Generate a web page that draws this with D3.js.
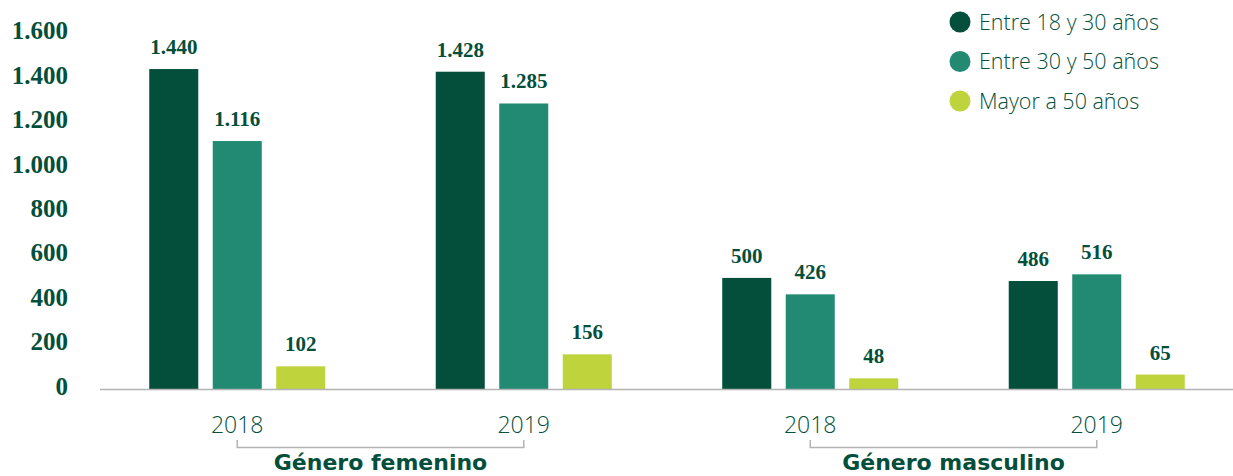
<!DOCTYPE html>
<html>
<head>
<meta charset="utf-8">
<script src="https://cdn.jsdelivr.net/npm/d3@7"></script>
<style>
  body { margin: 0; background: #fff; }
  .num { font-family: "Liberation Serif", serif; font-weight: bold; fill: #034f3b; }
  .sans { font-family: "Open Sans", sans-serif; fill: #034f3b; }
  .bold { font-family: "DejaVu Sans", sans-serif; font-weight: bold; fill: #034f3b; }
</style>
</head>
<body>
<div id="chart"></div>
<script>
// data
const groups = ["F2018", "F2019", "M2018", "M2019"];
const years = ["2018", "2019", "2018", "2019"];
const genders = ["Género femenino", "Género masculino"];
const series = ["Entre 18 y 30 años", "Entre 30 y 50 años", "Mayor a 50 años"];
const entre18y30 = [1440, 1428, 500, 486];
const entre30y50 = [1116, 1285, 426, 516];
const mayor50 = [102, 156, 48, 65];
const yTicks = [0, 200, 400, 600, 800, 1000, 1200, 1400, 1600];
const colors = ["#034f3b", "#228a72", "#bfd33c"];

const W = 1233, H = 476;
const svg = d3.select("#chart").append("svg")
  .attr("width", W)
  .attr("height", H);

const values = [entre18y30, entre30y50, mayor50];
const fmt = d3.formatLocale({decimal: ",", thousands: ".", grouping: [3], currency: ["", ""]}).format(",");

const y = d3.scaleLinear().domain([0, 1600]).range([389, 33.5]);
const x0 = d3.scaleBand().domain(groups).range([94, 1240]);
const x1 = d3.scaleBand().domain(series).range([0, x0.bandwidth()])
  .paddingInner(0.228).paddingOuter(0.87);

// y axis labels
svg.append("g").selectAll("text")
  .data(yTicks)
  .enter().append("text")
    .attr("class", "num")
    .attr("x", 68)
    .attr("y", d => y(d) - 3)
    .attr("dy", ".35em")
    .attr("text-anchor", "end")
    .style("font-size", "25px")
    .text(d => fmt(d));

// bars
const g = svg.append("g");
groups.forEach(function (grp, i) {
  series.forEach(function (s, j) {
    const v = values[j][i];
    g.append("rect")
      .attr("x", x0(grp) + x1(s))
      .attr("y", y(v))
      .attr("width", x1.bandwidth())
      .attr("height", y(0) - y(v))
      .attr("fill", colors[j]);
    g.append("text")
      .attr("class", "num")
      .attr("x", x0(grp) + x1(s) + x1.bandwidth() / 2)
      .attr("y", y(v) - 15)
      .attr("text-anchor", "middle")
      .style("font-size", "21px")
      .text(fmt(v));
  });
});

// baseline
svg.append("line")
  .attr("x1", 100).attr("x2", W)
  .attr("y1", y(0) + 0.5).attr("y2", y(0) + 0.5)
  .attr("stroke", "#b3b3b3")
  .attr("stroke-width", 1.5);

// year labels
svg.append("g").selectAll("text")
  .data(groups)
  .enter().append("text")
    .attr("class", "sans")
    .attr("x", d => x0(d) + x0.bandwidth() / 2)
    .attr("y", 433)
    .attr("text-anchor", "middle")
    .style("font-size", "23px")
    .style("font-weight", 300)
    .text((d, i) => years[i]);

// brackets + gender labels
genders.forEach(function (name, k) {
  const a = x0(groups[k * 2]) + x0.bandwidth() / 2;
  const b = x0(groups[k * 2 + 1]) + x0.bandwidth() / 2;
  svg.append("path")
    .attr("d", "M" + a + ",440V447.5H" + b + "V440")
    .attr("fill", "none")
    .attr("stroke", "#b3b3b3")
    .attr("stroke-width", 1.5);
  svg.append("text")
    .attr("class", "bold")
    .attr("x", (a + b) / 2)
    .attr("y", 470)
    .attr("text-anchor", "middle")
    .style("font-size", "22px")
    .text(name);
});

// legend
const leg = svg.append("g").attr("transform", "translate(960,22)");
series.forEach(function (s, j) {
  leg.append("circle")
    .attr("cx", 0)
    .attr("cy", j * 39.5)
    .attr("r", 10.5)
    .attr("fill", colors[j]);
  leg.append("text")
    .attr("class", "sans")
    .attr("x", 19)
    .attr("y", j * 39.5)
    .attr("dy", ".35em")
    .style("font-size", "21.5px")
    .style("font-weight", 300)
    .text(s);
});
</script>
</body>
</html>
